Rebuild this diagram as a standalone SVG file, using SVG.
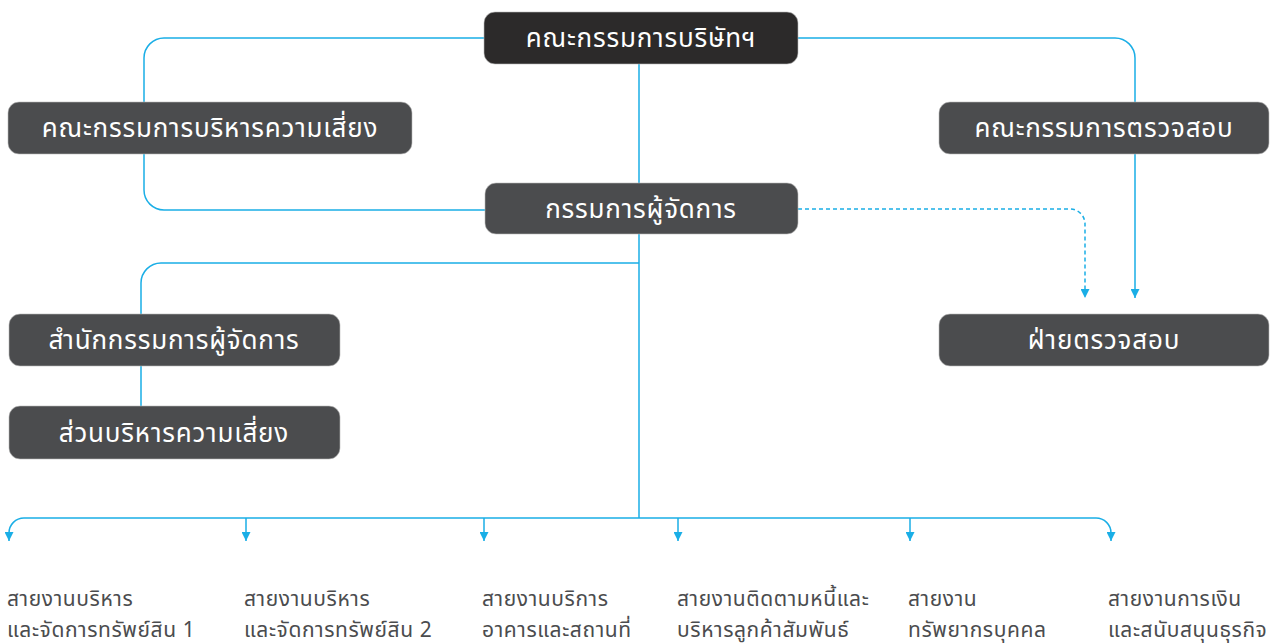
<svg xmlns="http://www.w3.org/2000/svg" width="1279" height="644" viewBox="0 0 1279 644">
<style>
.ln{fill:none;stroke:#1aaee6;stroke-width:1.5}
.dash{fill:none;stroke:#1aaee6;stroke-width:1.5;stroke-dasharray:4 3}
.box{fill:#4b4c4e;stroke:#b8b8b8;stroke-width:0.6}
.top{fill:#2c2a2a;stroke:#b8b8b8;stroke-width:0.6}
.bt{font-family:"Noto Sans Thai","Noto Sans","DejaVu Sans",sans-serif;font-size:26px;letter-spacing:0.8px;fill:#ffffff;text-anchor:middle}
.lb{font-family:"Noto Sans Thai","Noto Sans","DejaVu Sans",sans-serif;font-size:21px;letter-spacing:0.6px;fill:#4b4c4e}
</style>
<defs>
<marker id="ah" viewBox="0 0 10 10" refX="10" refY="5" markerWidth="9" markerHeight="9" markerUnits="userSpaceOnUse" orient="auto">
<path d="M0,0 L10,5 L0,10 z" fill="#1aaee6"/>
</marker>
</defs>
<rect width="1279" height="644" fill="#ffffff"/>
<g id="connectors">
<path class="ln" d="M484,38 H164 A20,20 0 0 0 144,58 V190 A20,20 0 0 0 164,210 H485"/>
<path class="ln" d="M798,38 H1115 A20,20 0 0 1 1135,58 V298" marker-end="url(#ah)"/>
<path class="ln" d="M639,64 V518"/>
<path class="ln" d="M639,263 H161 A20,20 0 0 0 141,283 V406"/>
<path class="ln" d="M639,518 H24 A15,15 0 0 0 9,533 V541" marker-end="url(#ah)"/>
<path class="ln" d="M639,518 H1096 A15,15 0 0 1 1111,533 V541" marker-end="url(#ah)"/>
<path class="ln" d="M246,518 V541" marker-end="url(#ah)"/>
<path class="ln" d="M484,518 V541" marker-end="url(#ah)"/>
<path class="ln" d="M678,518 V541" marker-end="url(#ah)"/>
<path class="ln" d="M910,518 V541" marker-end="url(#ah)"/>
<path class="dash" d="M798,209 H1070 A15,15 0 0 1 1085,224 V298" marker-end="url(#ah)"/>
</g>
<g id="board">
<rect class="top" x="484" y="12" width="314" height="52" rx="11"/>
<text class="bt" x="641" y="47">คณะกรรมการบริษัทฯ</text>
</g>
<g id="risk-committee">
<rect class="box" x="8" y="102" width="404" height="52" rx="11"/>
<text class="bt" x="210" y="137">คณะกรรมการบริหารความเสี่ยง</text>
</g>
<g id="audit-committee">
<rect class="box" x="939" y="102" width="330" height="52" rx="11"/>
<text class="bt" x="1104" y="137">คณะกรรมการตรวจสอบ</text>
</g>
<g id="md">
<rect class="box" x="485" y="183" width="313" height="51" rx="11"/>
<text class="bt" x="641" y="218">กรรมการผู้จัดการ</text>
</g>
<g id="md-office">
<rect class="box" x="9" y="314" width="331" height="52" rx="11"/>
<text class="bt" x="174" y="349">สำนักกรรมการผู้จัดการ</text>
</g>
<g id="risk-section">
<rect class="box" x="9" y="406" width="331" height="53" rx="11"/>
<text class="bt" x="174" y="442">ส่วนบริหารความเสี่ยง</text>
</g>
<g id="audit-dept">
<rect class="box" x="939" y="314" width="330" height="52" rx="11"/>
<text class="bt" x="1104" y="349">ฝ่ายตรวจสอบ</text>
</g>
<g id="div1"><text class="lb" x="7" y="606">สายงานบริหาร</text><text class="lb" x="7" y="637">และจัดการทรัพย์สิน 1</text></g>
<g id="div2"><text class="lb" x="244" y="606">สายงานบริหาร</text><text class="lb" x="244" y="637">และจัดการทรัพย์สิน 2</text></g>
<g id="div3"><text class="lb" x="482" y="606">สายงานบริการ</text><text class="lb" x="482" y="637">อาคารและสถานที่</text></g>
<g id="div4"><text class="lb" x="677" y="606">สายงานติดตามหนี้และ</text><text class="lb" x="677" y="637">บริหารลูกค้าสัมพันธ์</text></g>
<g id="div5"><text class="lb" x="908" y="606">สายงาน</text><text class="lb" x="908" y="637">ทรัพยากรบุคคล</text></g>
<g id="div6"><text class="lb" x="1108" y="606">สายงานการเงิน</text><text class="lb" x="1108" y="637">และสนับสนุนธุรกิจ</text></g>
</svg>
